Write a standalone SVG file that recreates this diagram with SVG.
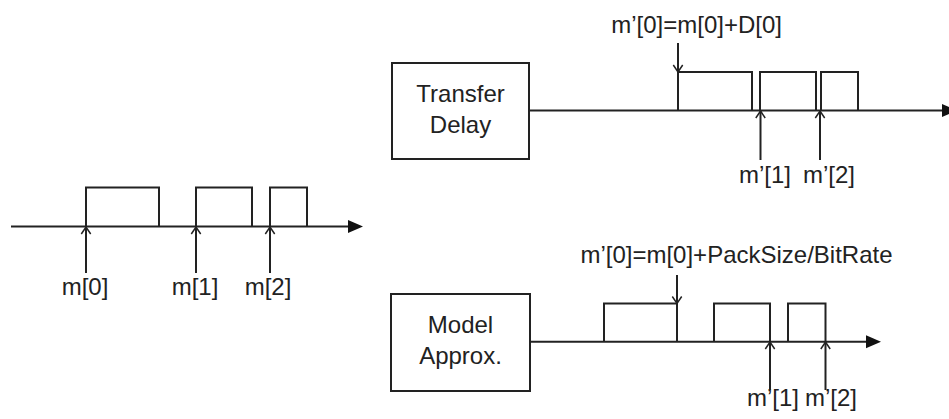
<svg xmlns="http://www.w3.org/2000/svg" width="949" height="419" viewBox="0 0 949 419">
<defs>
<style>
.ln{fill:none;stroke:#222;stroke-width:2}
.bx{fill:#fff;stroke:#222;stroke-width:2}
.t{font-family:"Liberation Sans",Arial,sans-serif;font-size:24px;fill:#222}
.c{text-anchor:middle}
</style>
<marker id="open" markerUnits="userSpaceOnUse" viewBox="-9 -6 10 12" refX="0" refY="0" markerWidth="10" markerHeight="12" orient="auto">
<path d="M-7,-4.7 L0,0 L-7,4.7" fill="none" stroke="#222" stroke-width="1.5"/>
</marker>
<marker id="solid" markerUnits="userSpaceOnUse" viewBox="0 -7 15 14" refX="0" refY="0" markerWidth="15" markerHeight="14" orient="auto">
<path d="M0,-6.5 L15,0 L0,6.5 Z" fill="#111"/>
</marker>
</defs>
<rect width="949" height="419" fill="#fff"/>

<g id="transfer-delay">
<rect class="bx" x="392" y="63" width="137" height="96"/>
<text class="t c" x="460.5" y="102">Transfer</text>
<text class="t c" x="460.5" y="133">Delay</text>
</g>

<g id="model-approx">
<rect class="bx" x="391" y="294" width="139" height="97"/>
<text class="t c" x="460.5" y="333">Model</text>
<text class="t c" x="460.5" y="364">Approx.</text>
</g>

<g id="pulses-original">
<polyline class="ln" points="86,226.5 86,187.5 159,187.5 159,226.5"/>
<polyline class="ln" points="196,226.5 196,187.5 252,187.5 252,226.5"/>
<polyline class="ln" points="270,226.5 270,187.5 307,187.5 307,226.5"/>
</g>

<g id="pulses-transfer">
<polyline class="ln" points="678,110.5 678,72 752,72 752,110.5"/>
<polyline class="ln" points="760,110.5 760,72 816,72 816,110.5"/>
<polyline class="ln" points="821,110.5 821,72 858,72 858,110.5"/>
</g>

<g id="pulses-model">
<polyline class="ln" points="604,341.7 604,303.5 677,303.5 677,341.7"/>
<polyline class="ln" points="714,341.7 714,303.5 770,303.5 770,341.7"/>
<polyline class="ln" points="788,341.7 788,303.5 825.5,303.5 825.5,341.7"/>
</g>

<g id="connectors">
<line class="ln" x1="11" y1="226.5" x2="348" y2="226.5" marker-end="url(#solid)"/>
<line class="ln" x1="529" y1="110.5" x2="942" y2="110.5" marker-end="url(#solid)"/>
<line class="ln" x1="530" y1="341.7" x2="866" y2="341.7" marker-end="url(#solid)"/>

<line class="ln" x1="86" y1="273" x2="86" y2="227" marker-end="url(#open)"/>
<line class="ln" x1="196" y1="273" x2="196" y2="227" marker-end="url(#open)"/>
<line class="ln" x1="270" y1="273" x2="270" y2="227" marker-end="url(#open)"/>

<line class="ln" x1="678" y1="43" x2="678" y2="72" marker-end="url(#open)"/>
<line class="ln" x1="760.5" y1="160" x2="760.5" y2="111" marker-end="url(#open)"/>
<line class="ln" x1="820" y1="160" x2="820" y2="111" marker-end="url(#open)"/>

<line class="ln" x1="677" y1="275" x2="677" y2="303.5" marker-end="url(#open)"/>
<line class="ln" x1="770" y1="390" x2="770" y2="342" marker-end="url(#open)"/>
<line class="ln" x1="825.5" y1="390" x2="825.5" y2="342" marker-end="url(#open)"/>
</g>

<g id="labels">
<text class="t c" x="85" y="295">m[0]</text>
<text class="t c" x="195" y="295">m[1]</text>
<text class="t c" x="268" y="295">m[2]</text>
<text class="t" x="782" y="33" text-anchor="end">m’[0]=m[0]+D[0]</text>
<text class="t c" x="765" y="183">m’[1]</text>
<text class="t c" x="829" y="183">m’[2]</text>
<text class="t c" x="736.5" y="263">m’[0]=m[0]+PackSize/BitRate</text>
<text class="t c" x="773" y="406">m’[1]</text>
<text class="t c" x="831" y="406">m’[2]</text>
</g>
</svg>
